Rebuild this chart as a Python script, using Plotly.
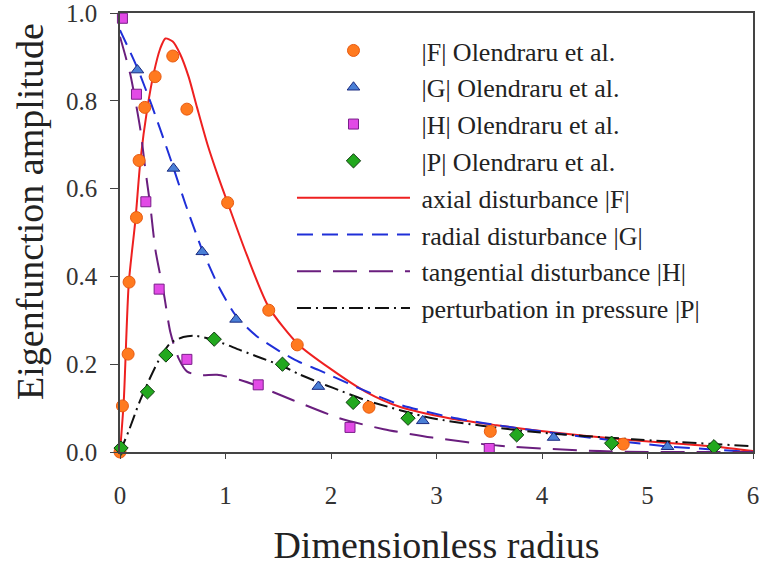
import plotly.graph_objects as go

# ---------- data: reference points (Olendraru et al.) ----------
F_x = [0.0, 0.023, 0.077, 0.086, 0.156, 0.181, 0.235, 0.333, 0.50, 0.634, 1.02, 1.41, 1.68, 2.36, 3.51, 4.77]
F_y = [0.0, 0.105, 0.223, 0.387, 0.534, 0.664, 0.785, 0.855, 0.902, 0.781, 0.568, 0.323, 0.244, 0.102, 0.047, 0.018]

G_x = [0.165, 0.507, 0.78, 1.10, 1.88, 2.87, 4.11, 5.19]
G_y = [0.870, 0.646, 0.456, 0.302, 0.149, 0.071, 0.033, 0.012]

H_x = [0.023, 0.156, 0.245, 0.371, 0.634, 1.31, 2.18, 3.50]
H_y = [0.988, 0.815, 0.570, 0.371, 0.211, 0.153, 0.056, 0.008]

P_x = [0.01, 0.26, 0.435, 0.893, 1.54, 2.21, 2.73, 3.76, 4.66, 5.63]
P_y = [0.009, 0.137, 0.221, 0.257, 0.200, 0.113, 0.077, 0.039, 0.020, 0.012]

# ---------- data: computed eigenfunctions ----------
Fl_x = [0.0, 0.036, 0.083, 0.146, 0.194, 0.257, 0.32, 0.38, 0.43, 0.50, 0.573, 0.65, 0.73, 0.83, 0.93, 1.02,
        1.20, 1.41, 1.69, 2.01, 2.33, 2.65, 3.12, 3.57, 3.91, 4.4, 4.86, 5.3, 5.65, 6.0]
Fl_y = [0.0, 0.118, 0.384, 0.528, 0.665, 0.78, 0.863, 0.918, 0.942, 0.935, 0.905, 0.855, 0.785, 0.700, 0.628, 0.568,
        0.450, 0.330, 0.245, 0.187, 0.137, 0.103, 0.077, 0.061, 0.050, 0.037, 0.027, 0.019, 0.012, 0.002]

Gl_x = [0.0, 0.162, 0.30, 0.478, 0.62, 0.78, 0.95, 1.10, 1.29, 1.51, 1.70, 1.88, 2.02, 2.27, 2.65, 3.12, 3.44,
        3.9, 4.55, 5.18, 5.8, 6.0]
Gl_y = [0.961, 0.876, 0.79, 0.668, 0.565, 0.46, 0.37, 0.31, 0.265, 0.23, 0.205, 0.187, 0.172, 0.145, 0.108,
        0.080, 0.066, 0.050, 0.030, 0.013, 0.003, 0.0]

Hl_x = [0.0, 0.099, 0.146, 0.194, 0.241, 0.288, 0.336, 0.415, 0.478, 0.558, 0.637, 0.763, 0.92, 1.14, 1.31,
        1.64, 2.08, 2.50, 2.96, 3.6, 4.55, 5.0, 6.0]
Hl_y = [0.946, 0.859, 0.80, 0.733, 0.642, 0.559, 0.46, 0.362, 0.272, 0.212, 0.183, 0.175, 0.176, 0.164, 0.150,
        0.118, 0.077, 0.052, 0.033, 0.014, 0.002, 0.0, 0.0]

Pl_x = [0.0, 0.086, 0.18, 0.276, 0.37, 0.478, 0.6, 0.70, 0.89, 1.14, 1.35, 1.54, 1.70, 1.89, 2.02, 2.33, 2.96,
        3.91, 4.86, 6.0]
Pl_y = [0.0, 0.05, 0.111, 0.164, 0.21, 0.248, 0.262, 0.265, 0.255, 0.232, 0.213, 0.196, 0.177, 0.158, 0.146,
        0.118, 0.077, 0.046, 0.029, 0.013]

x_ticks = [0, 1, 2, 3, 4, 5, 6]
y_ticks = [0.0, 0.2, 0.4, 0.6, 0.8, 1.0]

SERIF = "Liberation Serif"
PAD = "\u00a0"

fig = go.Figure()

def mk(x, y, name, symbol, fill, edge, size):
    fig.add_trace(go.Scatter(
        x=x, y=y, mode="markers", name=PAD + name, cliponaxis=False,
        marker=dict(symbol=symbol, color=fill, size=size, line=dict(color=edge, width=1))))

def ln(x, y, name, color, dash):
    fig.add_trace(go.Scatter(
        x=x, y=y, mode="lines", name=PAD + name, line_shape="spline",
        line=dict(color=color, width=2, dash=dash, smoothing=0.7)))

# lines first so markers sit on top; legend order set by legendrank
ln(Fl_x, Fl_y, "axial disturbance |F|", "#EE2020", "solid")
ln(Gl_x, Gl_y, "radial disturbance |G|", "#1F2FD8", "16px,9px")
ln(Hl_x, Hl_y, "tangential disturbance |H|", "#6A1E7E", "24px,12px")
ln(Pl_x, Pl_y, "perturbation in pressure |P|", "#111111", "14px,5px,2px,5px")

mk(F_x, F_y, "|F| Olendraru et al.", "circle", "#FF7A1F", "#E85A10", 12)
mk(G_x, G_y, "|G| Olendraru et al.", "triangle-up", "#4A7FD6", "#1A2A80", 11)
mk(H_x, H_y, "|H| Olendraru et al.", "square", "#E24AE6", "#7A1E8A", 10)
mk(P_x, P_y, "|P| Olendraru et al.", "diamond", "#22A81E", "#0F3A0F", 11)

ranks = [5, 6, 7, 8, 1, 2, 3, 4]
for tr, r in zip(fig.data, ranks):
    tr.legendrank = r

axis_common = dict(
    showline=True, linecolor="#444444", linewidth=1.5, mirror=True,
    ticks="outside", tickcolor="#444444", tickwidth=1.2,
    showgrid=False, zeroline=False, automargin=False,
    ticklabeloverflow="allow",
    tickfont=dict(family=SERIF, size=25, color="#333333"),
)

fig.update_xaxes(
    range=[0, 6], tickvals=x_ticks, ticklen=5, ticklabelstandoff=15,
    title=dict(text="Dimensionless radius", font=dict(family=SERIF, size=38, color="#222222"), standoff=24),
    **axis_common)
fig.update_yaxes(
    range=[0, 1], tickvals=y_ticks, tickformat=".1f", ticklen=8, ticklabelstandoff=8,
    **axis_common)

fig.add_annotation(
    text="Eigenfunction amplitude", textangle=-90,
    xref="paper", yref="paper", x=-0.142, y=0.547, xanchor="center", yanchor="middle",
    showarrow=False, font=dict(family=SERIF, size=38, color="#222222"))

fig.update_layout(
    width=760, height=571,
    margin=dict(l=120, r=7, t=13, b=119, autoexpand=False),
    paper_bgcolor="white", plot_bgcolor="white",
    showlegend=True,
    legend=dict(
        x=0.2717, y=0.968, xanchor="left", yanchor="top",
        bgcolor="rgba(0,0,0,0)", borderwidth=0,
        itemwidth=113,
        font=dict(family=SERIF, size=26, color="#222222"),
        traceorder="normal",
    ),
)

fig.write_html("out.html")
